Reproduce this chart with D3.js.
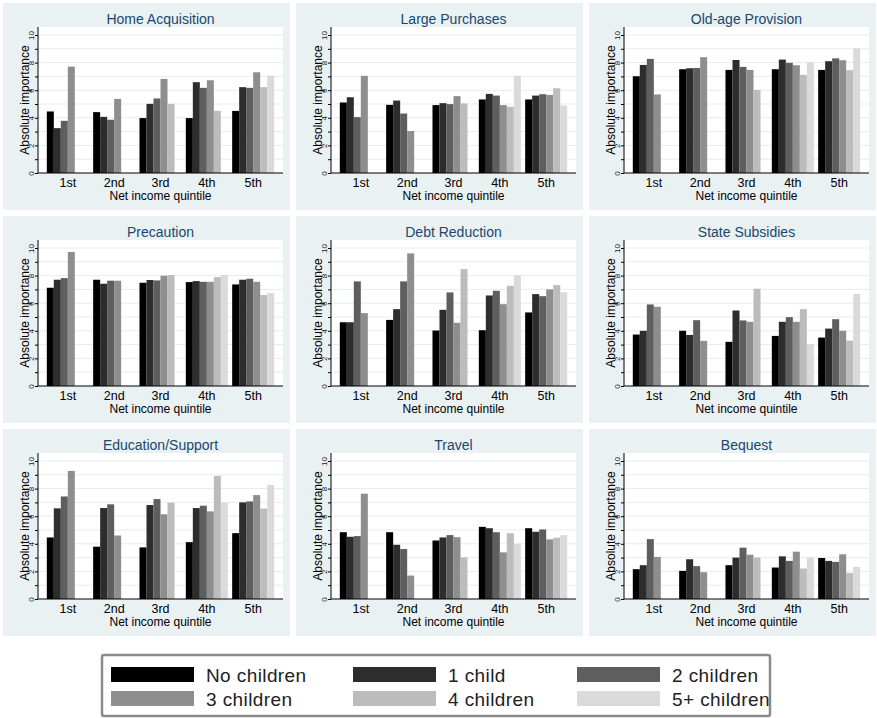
<!DOCTYPE html>
<html>
<head>
<meta charset="utf-8">
<script src="https://cdn.jsdelivr.net/npm/d3@7/dist/d3.min.js"></script>
<style>
  body { margin: 0; background: #fff; }
  svg { display: block; font-family: "Liberation Sans", Arial, sans-serif; }
</style>
</head>
<body>
<svg width="877" height="718"></svg>
<script>
const svg = d3.select('svg');

// categories
const quintiles = ['1st', '2nd', '3rd', '4th', '5th'];
const childGroups = ['No children', '1 child', '2 children', '3 children', '4 children', '5+ children'];
const panelTitles = ['Home Acquisition', 'Large Purchases', 'Old-age Provision',
    'Precaution', 'Debt Reduction', 'State Subsidies',
    'Education/Support', 'Travel', 'Bequest'];

// values per quintile: [no children, 1, 2, 3, 4, 5+] (null = no bar)
const homeAcquisition = [
    [4.46, 3.25, 3.78, 7.71, null, null],
    [4.41, 4.07, 3.86, 5.37, null, null],
    [3.98, 5.01, 5.40, 6.82, 5.01, null],
    [3.98, 6.58, 6.17, 6.72, 4.50, null],
    [4.50, 6.22, 6.17, 7.30, 6.22, 7.06]
];
const largePurchases = [
    [5.11, 5.49, 4.05, 7.04, null, null],
    [4.94, 5.25, 4.31, 3.04, null, null],
    [4.92, 5.06, 4.99, 5.57, 5.04, null],
    [5.33, 5.73, 5.61, 4.92, 4.80, 7.04],
    [5.33, 5.61, 5.71, 5.66, 6.14, 4.89]
];
const oldAgeProvision = [
    [7.01, 7.83, 8.27, 5.69, null, null],
    [7.52, 7.59, 7.61, 8.39, null, null],
    [7.47, 8.19, 7.69, 7.47, 6.02, null],
    [7.52, 8.22, 7.98, 7.81, 7.11, 8.02],
    [7.47, 8.10, 8.31, 8.17, 7.45, 9.04]
];
const precaution = [
    [7.12, 7.70, 7.82, 9.71, null, null],
    [7.70, 7.41, 7.63, 7.63, null, null],
    [7.48, 7.68, 7.65, 7.99, 8.04, null],
    [7.53, 7.60, 7.55, 7.55, 7.89, 8.04],
    [7.36, 7.70, 7.77, 7.55, 6.59, 6.73]
];
const debtReduction = [
    [4.62, 4.62, 7.58, 5.28, null, null],
    [4.79, 5.57, 7.58, 9.61, null, null],
    [4.02, 5.52, 6.78, 4.58, 8.47, null],
    [4.04, 6.56, 6.90, 5.93, 7.26, 8.04],
    [5.33, 6.66, 6.51, 7.00, 7.31, 6.80]
];
const stateSubsidies = [
    [3.73, 4.00, 5.91, 5.74, null, null],
    [4.00, 3.70, 4.77, 3.27, null, null],
    [3.20, 5.47, 4.75, 4.65, 7.05, null],
    [3.63, 4.65, 4.99, 4.65, 5.57, 3.05],
    [3.51, 4.16, 4.84, 4.00, 3.29, 6.68]
];
const educationSupport = [
    [4.46, 6.57, 7.43, 9.28, null, null],
    [3.79, 6.59, 6.86, 4.60, null, null],
    [3.74, 6.81, 7.24, 6.14, 6.98, null],
    [4.12, 6.59, 6.76, 6.35, 8.92, 6.98],
    [4.77, 7.00, 7.07, 7.53, 6.55, 8.27]
];
const travel = [
    [4.84, 4.51, 4.56, 7.63, null, null],
    [4.84, 3.93, 3.62, 1.70, null, null],
    [4.24, 4.46, 4.63, 4.48, 3.02, null],
    [5.23, 5.13, 4.84, 3.38, 4.77, 4.00],
    [5.13, 4.87, 5.04, 4.32, 4.44, 4.63]
];
const bequest = [
    [2.16, 2.45, 4.34, 3.05, null, null],
    [2.04, 2.88, 2.38, 1.94, null, null],
    [2.45, 3.00, 3.72, 3.21, 3.00, null],
    [2.28, 3.09, 2.76, 3.43, 2.21, 3.00],
    [2.97, 2.76, 2.69, 3.24, 1.89, 2.33]
];
const yTicks = [0, 2, 4, 6, 8, 10];

const panelValues = [homeAcquisition, largePurchases, oldAgeProvision,
    precaution, debtReduction, stateSubsidies,
    educationSupport, travel, bequest];

const colorScale = d3.scaleOrdinal()
    .domain(childGroups)
    .range(['#000000', '#2d2d2d', '#5e5e5e', '#8e8e8e', '#bcbcbc', '#dadada']);

const colX = [3, 296, 589];
const rowY = [3, 216, 429];
const panelW = 287, panelH = 207;

const drawPanel = (g, title, values) => {
    const left = 35, right = 280, top = 24;
    const y = d3.scaleLinear().domain([0, 10]).range([170, 32]);
    const x = d3.scaleBand().domain(quintiles).range([left, right])
        .paddingInner(0.093).paddingOuter(0.19);
    const xs = d3.scaleBand().domain(childGroups).range([0, x.bandwidth()]);

    g.append('rect').attr('width', panelW).attr('height', panelH).attr('fill', '#eaf1f3');
    g.append('rect').attr('x', left).attr('y', top)
        .attr('width', right - left).attr('height', y(0) - top).attr('fill', '#fff');

    // grid lines every unit
    g.selectAll('.grid').data(d3.range(1, 11)).enter().append('line')
        .attr('x1', left).attr('x2', right)
        .attr('y1', d => y(d)).attr('y2', d => y(d))
        .attr('stroke', '#e4edf0').attr('stroke-width', 1);

    const rows = quintiles.flatMap((q, i) => childGroups.map((c, j) => ({ q, c, v: values[i][j] })))
        .filter(d => d.v != null);
    g.selectAll('.bar').data(rows).enter().append('rect')
        .attr('x', d => x(d.q) + xs(d.c))
        .attr('y', d => y(d.v))
        .attr('width', xs.bandwidth())
        .attr('height', d => y(0) - y(d.v))
        .attr('fill', d => colorScale(d.c));

    // y axis
    const yAxis = g.append('g').attr('transform', `translate(${left},0)`)
        .call(d3.axisLeft(y).tickValues(d3.range(0, 11)).tickSize(3)
            .tickFormat(d => yTicks.includes(d) ? d : ''));
    yAxis.select('.domain').attr('d', `M0,${top}V${y(0)}`).attr('stroke', '#000');
    yAxis.selectAll('.tick line').attr('stroke', '#000');
    yAxis.selectAll('.tick text')
        .attr('x', 0).attr('dy', 0)
        .attr('transform', 'translate(-4,0) rotate(-90)')
        .attr('text-anchor', 'middle')
        .attr('font-size', 8).attr('fill', '#222')
        .attr('font-family', 'Liberation Sans, Arial, sans-serif');

    // x axis
    const xAxis = g.append('g').attr('transform', `translate(0,${y(0)})`)
        .call(d3.axisBottom(x).tickSize(0).tickPadding(5));
    xAxis.select('.domain').attr('d', `M${left},0H${right}`).attr('stroke', '#000');
    xAxis.selectAll('.tick text').attr('font-size', 12.5).attr('fill', '#000')
        .attr('font-family', 'Liberation Sans, Arial, sans-serif');

    g.append('text').attr('x', (left + right) / 2).attr('y', 197)
        .attr('text-anchor', 'middle').attr('font-size', 12).text('Net income quintile');
    g.append('text').attr('transform', `translate(22,${(top + y(0)) / 2}) rotate(-90)`)
        .attr('text-anchor', 'middle').attr('dy', '0.35em').attr('font-size', 12)
        .text('Absolute importance');
    g.append('text').attr('x', (left + right) / 2).attr('y', 21)
        .attr('text-anchor', 'middle').attr('font-size', 14).attr('fill', '#1a476f')
        .text(title);
};

panelTitles.forEach((t, i) => {
    const g = svg.append('g')
        .attr('transform', `translate(${colX[i % 3]},${rowY[Math.floor(i / 3)]})`);
    drawPanel(g, t, panelValues[i]);
});

// legend
const legend = svg.append('g');
legend.append('rect').attr('x', 102).attr('y', 655).attr('width', 668).attr('height', 61)
    .attr('rx', 2).attr('fill', '#fff').attr('stroke', '#8a8a8a').attr('stroke-width', 2.5);
const legX = [111, 353, 577];
const legY = [667, 691];
const item = legend.selectAll('.item').data(childGroups).enter().append('g')
    .attr('transform', (d, i) => `translate(${legX[i % 3]},${legY[Math.floor(i / 3)]})`);
item.append('rect').attr('width', 83).attr('height', 15).attr('fill', d => colorScale(d));
item.append('text').attr('x', 95).attr('y', 15).attr('font-size', 19)
    .attr('letter-spacing', 0.4).attr('fill', '#222').text(d => d);
</script>
</body>
</html>
